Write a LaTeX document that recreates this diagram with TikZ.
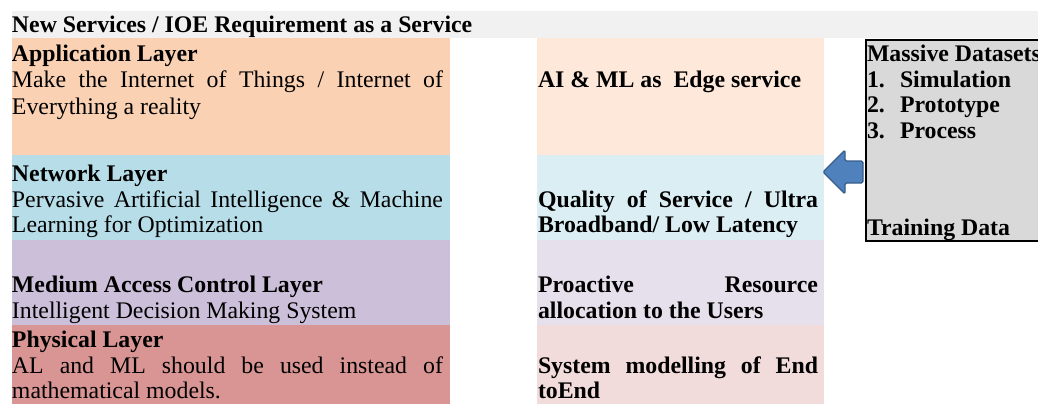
\documentclass[tikz,border=0pt]{standalone}
\usepackage{fontspec}
\setmainfont{Liberation Serif}

\definecolor{headgray}{HTML}{F1F1F1}
\definecolor{appL}{HTML}{FAD1B3}
\definecolor{appM}{HTML}{FDE8DA}
\definecolor{netL}{HTML}{B6DDE8}
\definecolor{netM}{HTML}{DAEEF3}
\definecolor{macL}{HTML}{CCBFD9}
\definecolor{macM}{HTML}{E5E0EC}
\definecolor{phyL}{HTML}{D99594}
\definecolor{phyM}{HTML}{F2DBDB}
\definecolor{boxgray}{HTML}{D9D9D9}
\definecolor{arrowfill}{HTML}{4F81BD}
\definecolor{arrowedge}{HTML}{385D8A}

\begin{document}
\begin{tikzpicture}[x=1pt,y=-1pt,
  cell/.style={inner sep=0pt, outer sep=0pt, anchor=north west},
  txt/.style={anchor=base west, inner sep=0pt, outer sep=0pt,
    font=\fontsize{23.8}{26}\selectfont},
  bold/.style={txt, font=\fontsize{23.8}{26}\selectfont\bfseries},
  blockarrow/.style={fill=arrowfill, draw=arrowedge, line width=1.3pt,
    rounded corners=1.5pt, line join=round}]
\useasboundingbox (0,0) rectangle (1038,404);
\clip (0,0) rectangle (1038,404);

% title band
\node[cell, fill=headgray, minimum width=1030pt, minimum height=27pt] (head) at (11.5,11) {};
\node[bold] (headT) at (12,33) {New Services / IOE Requirement as a Service};

% layer column
\node[cell, fill=appL, minimum width=438.5pt, minimum height=117pt] (appL) at (11.5,38) {};
\node[cell, fill=netL, minimum width=438.5pt, minimum height=85pt]  (netL) at (11.5,155) {};
\node[cell, fill=macL, minimum width=438.5pt, minimum height=85pt]  (macL) at (11.5,240) {};
\node[cell, fill=phyL, minimum width=438.5pt, minimum height=79pt]  (phyL) at (11.5,325) {};

% service column
\node[cell, fill=appM, minimum width=287pt, minimum height=117pt] (appM) at (537,38) {};
\node[cell, fill=netM, minimum width=287pt, minimum height=85pt]  (netM) at (537,155) {};
\node[cell, fill=macM, minimum width=287pt, minimum height=85pt]  (macM) at (537,240) {};
\node[cell, fill=phyM, minimum width=287pt, minimum height=79pt]  (phyM) at (537,325) {};

% layer texts
\node[bold] (appT1) at (12,62) {Application Layer};
\node[txt]  (appT2) at (12,88) {\makebox[431pt][s]{Make the Internet of Things / Internet of}};
\node[txt]  (appT3) at (12,114) {Everything a reality};

\node[bold] (netT1) at (12,181) {Network Layer};
\node[txt]  (netT2) at (12,207) {\makebox[431pt][s]{Pervasive Artificial Intelligence \& Machine}};
\node[txt]  (netT3) at (12,232) {Learning for Optimization};

\node[bold] (macT1) at (12,292) {Medium Access Control Layer};
\node[txt]  (macT2) at (12,318) {Intelligent Decision Making System};

\node[bold] (phyT1) at (12,347) {Physical Layer};
\node[txt]  (phyT2) at (12,373) {\makebox[431pt][s]{AL and ML should be used instead of}};
\node[txt]  (phyT3) at (12,398) {mathematical models.};

% service texts
\node[bold] (appS) at (538,88) {AI \& ML as\ \ Edge service};
\node[bold] (netS1) at (538,207) {\makebox[280pt][s]{Quality of Service / Ultra}};
\node[bold] (netS2) at (538,232) {Broadband/ Low Latency};
\node[bold] (macS1) at (538,292) {\makebox[280pt][s]{Proactive Resource}};
\node[bold] (macS2) at (538,318) {allocation to the Users};
\node[bold] (phyS1) at (538,373) {\makebox[280pt][s]{System modelling of End}};
\node[bold] (phyS2) at (538,398) {toEnd};

% data box
\node[cell, draw=black, line width=2pt, fill=boxgray, anchor=north west,
      minimum width=200pt, minimum height=201pt] (data) at (866,40) {};
\node[bold] (dataT) at (867,61) {Massive Datasets};
\node[bold] (n1) at (867,87) {1.};
\node[bold] (i1) at (900,87) {Simulation};
\node[bold] (n2) at (867,112) {2.};
\node[bold] (i2) at (900,112) {Prototype};
\node[bold] (n3) at (867,138) {3.};
\node[bold] (i3) at (900,138) {Process};
\node[bold] (dataB) at (867,235) {Training Data};

% block arrow from the data box into the service column
\coordinate (tip) at (netM.east |- 0,172);
\draw[blockarrow] ([xshift=-1pt]tip) -- ++(22,-22) -- ++(0,11) -- ++(18,0)
  -- ++(0,22) -- ++(-18,0) -- ++(0,11) -- cycle;
\end{tikzpicture}
\end{document}
